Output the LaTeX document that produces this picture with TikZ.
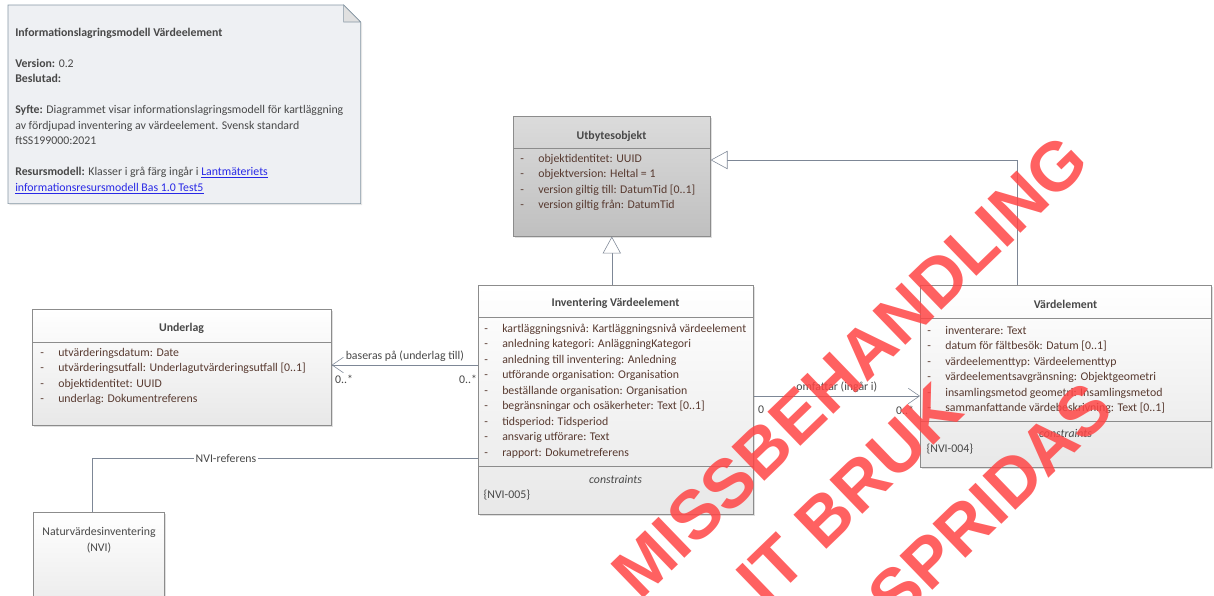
\documentclass[tikz,border=0pt]{standalone}
\usepackage{fontspec}
\setmainfont{Carlito}
\newfontfamily\stampfont{Liberation Sans}
\usetikzlibrary{arrows.meta,shadows}

\definecolor{boxline}{RGB}{140,140,140}
\definecolor{linkline}{RGB}{125,135,150}
\definecolor{attrtext}{RGB}{88,58,48}
\definecolor{titletext}{RGB}{72,72,72}
\definecolor{notefill}{RGB}{238,240,243}
\definecolor{noteline}{RGB}{135,152,165}
\definecolor{linkblue}{RGB}{40,40,230}
\definecolor{stampred}{RGB}{255,70,70}

\newcommand{\attr}[1]{\makebox[0.45cm][l]{-}#1}

\tikzset{
  classbox/.style={draw=boxline, top color=white, bottom color=black!9, anchor=north west, inner sep=0,
    drop shadow={shadow xshift=1.5pt, shadow yshift=-1.5pt, opacity=0.25}},
  basebox/.style={classbox, top color=black!14, bottom color=black!25},
  classtitle/.style={font=\fontsize{8.4}{11}\selectfont\bfseries, text=titletext, inner sep=0},
  attrlist/.style={font=\fontsize{8.4}{11}\selectfont, text=attrtext, align=left, inner sep=0, anchor=base west},
  sepline/.style={draw=boxline},
  genline/.style={draw=linkline, -{Triangle[open, length=12pt, width=13pt, fill=white]}},
  assocline/.style={draw=linkline, -{Straight Barb[length=8pt, width=11pt]}},
  plainline/.style={draw=linkline},
  linklabel/.style={font=\fontsize{8.4}{11}\selectfont, text=titletext, inner sep=1pt},
  stamp/.style={text=stampred, font=\stampfont\bfseries\fontsize{49}{49}\selectfont, opacity=0.85, rotate=44}
}

\begin{document}
\begin{tikzpicture}[x=0.025cm, y=-0.025cm]
\useasboundingbox[fill=white] (0,0) rectangle (1214,595);

\node[anchor=north west, minimum width=8.8cm, minimum height=4.95cm, inner sep=0] (note) at (8,5) {};
\draw[draw=noteline, fill=notefill, drop shadow={shadow xshift=1pt, shadow yshift=-1pt, opacity=0.2}] (note.north west) -- ([xshift=-0.425cm]note.north east) -- ([yshift=-0.425cm]note.north east) -- (note.south east) -- (note.south west) -- cycle;
\draw[draw=noteline, fill=black!12] ([xshift=-0.425cm]note.north east) -- ([xshift=-0.425cm, yshift=-0.425cm]note.north east) -- ([yshift=-0.425cm]note.north east) -- cycle;
\node[anchor=base west, align=left, inner sep=0, text=titletext, font=\fontsize{8.4}{11}\selectfont] (notetext) at (15,191) {\textbf{Informationslagringsmodell Värdeelement}\\[11pt]
\textbf{Version:} 0.2\\
\textbf{Beslutad:}\\[11pt]
\textbf{Syfte:} Diagrammet visar informationslagringsmodell för kartläggning\\
av fördjupad inventering av värdeelement. Svensk standard\\
ftSS199000:2021\\[11pt]
\textbf{Resursmodell:} Klasser i grå färg ingår i \textcolor{linkblue}{\underline{Lantmäteriets}}\\
\textcolor{linkblue}{\underline{informationsresursmodell Bas 1.0 Test5}}};

\node[basebox, minimum width=4.925cm, minimum height=3cm] (utb) at (513,116) {};
\node[classtitle] (utbtitle) at (611.5,136) {Utbytesobjekt};
\draw[sepline] (utb.west |- 0,148) -- (utb.east |- 0,148);
\node[attrlist] (utbattr) at (520,208.5) {\attr{objektidentitet: UUID}\\
\attr{objektversion: Heltal = 1}\\
\attr{version giltig till: DatumTid [0..1]}\\
\attr{version giltig från: DatumTid}};

\node[classbox, minimum width=7.475cm, minimum height=2.9cm] (und) at (32,309) {};
\node[classtitle] (undtitle) at (181.5,328) {Underlag};
\draw[sepline] (und.west |- 0,342) -- (und.east |- 0,342);
\node[attrlist] (undattr) at (40,402.5) {\attr{utvärderingsdatum: Date}\\
\attr{utvärderingsutfall: Underlagutvärderingsutfall [0..1]}\\
\attr{objektidentitet: UUID}\\
\attr{underlag: Dokumentreferens}};

\node[classbox, minimum width=6.875cm, minimum height=5.725cm] (inv) at (478,285) {};
\node[classtitle] (invtitle) at (615.5,303) {Inventering Värdeelement};
\draw[sepline] (inv.west |- 0,317) -- (inv.east |- 0,317);
\node[attrlist] (invattr) at (484,456) {\attr{kartläggningsnivå: Kartläggningsnivå värdeelement}\\
\attr{anledning kategori: AnläggningKategori}\\
\attr{anledning till inventering: Anledning}\\
\attr{utförande organisation: Organisation}\\
\attr{beställande organisation: Organisation}\\
\attr{begränsningar och osäkerheter: Text [0..1]}\\
\attr{tidsperiod: Tidsperiod}\\
\attr{ansvarig utförare: Text}\\
\attr{rapport: Dokumetreferens}};
\draw[sepline] (inv.west |- 0,466) -- (inv.east |- 0,466);
\node[linklabel, font=\fontsize{8.4}{11}\selectfont\itshape] (invcons) at (615.5,479) {constraints};
\node[linklabel, anchor=west] (invnvi) at (482,495) {\{NVI-005\}};

\node[classbox, minimum width=7.275cm, minimum height=4.55cm] (vard) at (920,285) {};
\node[classtitle] (vardtitle) at (1065.5,304) {Värdelement};
\draw[sepline] (vard.west |- 0,318) -- (vard.east |- 0,318);
\node[attrlist] (vardattr) at (927,411.5) {\attr{inventerare: Text}\\
\attr{datum för fältbesök: Datum [0..1]}\\
\attr{värdeelementtyp: Värdeelementtyp}\\
\attr{värdeelementsavgränsning: Objektgeometri}\\
\attr{insamlingsmetod geometri: Insamlingsmetod}\\
\attr{sammanfattande värdebeskrivning: Text [0..1]}};
\draw[sepline] (vard.west |- 0,421) -- (vard.east |- 0,421);
\node[linklabel, font=\fontsize{8.4}{11}\selectfont\itshape] (vardcons) at (1065.5,433) {constraints};
\node[linklabel, anchor=west] (vardnvi) at (925,449) {\{NVI-004\}};

\node[classbox, minimum width=3.275cm, minimum height=2.7cm] (nvi) at (33,512) {};
\node[linklabel, align=center] (nvititle) at (99,540) {Naturvärdesinventering\\(NVI)};

\draw[genline] (inv.north -| utb.south) -- (utb.south);
\coordinate (genbend) at (1017,160);
\draw[genline] (vard.north -| genbend) -- (genbend) -- (utb.east |- genbend);

\draw[assocline] (inv.west |- 0,365) -- node[linklabel, above=1pt] (basleb) {baseras på (underlag till)} (und.east |- 0,365);
\node[linklabel] (undmult) at (344,379) {0..*};
\node[linklabel] (invmult) at (468,379) {0..*};

\draw[assocline] (inv.east |- 0,396) -- node[linklabel, above=1pt] (omflab) {omfattar (ingår i)} (vard.west |- 0,396);
\node[linklabel] (invmult2) at (761,410) {0};
\node[linklabel] (vardmult) at (905,410) {0..*};

\coordinate (nvibend) at (92,458);
\draw[plainline] (inv.west |- nvibend) -- node[linklabel, fill=white, pos=0.653] (nvilab) {NVI-referens} (nvibend) -- (nvi.north -| nvibend);

\node[stamp] (wm1) at (850,366) {MISSBEHANDLING};
\node[stamp] (wm2) at (850,494) {IT BRUK};
\node[stamp] (wm3) at (990,502) {SPRIDAS};
\end{tikzpicture}
\end{document}
